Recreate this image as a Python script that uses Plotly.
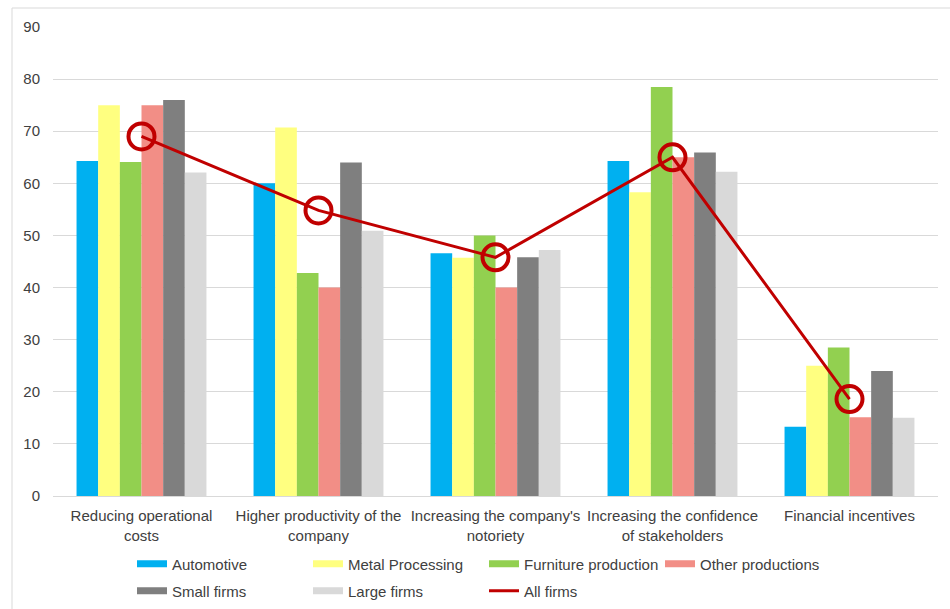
import plotly.graph_objects as go

# Categories (x axis) and survey shares (%) per group of firms
categories = [
    "Reducing operational<br>costs",
    "Higher productivity of the<br>company",
    "Increasing the company's<br>notoriety",
    "Increasing the confidence<br>of stakeholders",
    "Financial incentives",
]
automotive = [64.3, 60.0, 46.6, 64.3, 13.3]
metal_processing = [75.0, 70.7, 45.7, 58.3, 25.0]
furniture_production = [64.1, 42.8, 50.0, 78.5, 28.5]
other_productions = [75.0, 40.0, 40.0, 65.0, 15.1]
small_firms = [76.0, 64.0, 45.8, 65.9, 24.0]
large_firms = [62.1, 50.9, 47.2, 62.2, 15.0]
all_firms = [69.0, 54.8, 45.8, 65.0, 18.6]

bar_series = [
    ("Automotive", automotive, "#00B0F0", "legend"),
    ("Metal Processing", metal_processing, "#FFFF80", "legend"),
    ("Furniture production", furniture_production, "#92D050", "legend"),
    ("Other productions", other_productions, "#F28E86", "legend"),
    ("Small firms", small_firms, "#7F7F7F", "legend2"),
    ("Large firms", large_firms, "#D9D9D9", "legend2"),
]
line_color = "#C00000"
font_family = "Liberation Sans, Arial, sans-serif"
text_color = "#404040"

fig = go.Figure()

for name, values, color, _ in bar_series:
    fig.add_trace(go.Bar(
        x=categories, y=values, name=name,
        marker=dict(color=color, line=dict(width=0)),
        showlegend=False,
    ))

fig.add_trace(go.Scatter(
    x=categories, y=all_firms, name="All firms",
    mode="lines+markers",
    line=dict(color=line_color, width=3),
    marker=dict(symbol="circle-open", size=26,
                line=dict(color=line_color, width=4)),
    showlegend=False,
))

# Legend entries drawn as wide flat swatches
for name, _, color, leg in bar_series:
    fig.add_trace(go.Scatter(
        x=[None], y=[None], name=name, mode="lines",
        line=dict(color=color, width=7), legend=leg,
    ))
fig.add_trace(go.Scatter(
    x=[None], y=[None], name="All firms", mode="lines",
    line=dict(color=line_color, width=3), legend="legend2",
))

legend_common = dict(
    orientation="h",
    xref="container", yref="container",
    xanchor="left", yanchor="middle",
    entrywidth=131, entrywidthmode="pixels",
    font=dict(family=font_family, size=15, color=text_color),
    bgcolor="rgba(0,0,0,0)",
    itemclick=False, itemdoubleclick=False,
    traceorder="normal",
)

fig.update_layout(
    width=950, height=609,
    margin=dict(l=53, r=12, t=27, b=113, autoexpand=False),
    paper_bgcolor="white", plot_bgcolor="white",
    barmode="group", bargap=0.266, bargroupgap=0,
    font=dict(family=font_family, size=15, color=text_color),
    legend=dict(x=132 / 950, y=(609 - 564) / 609, **legend_common),
    legend2=dict(x=132 / 950, y=(609 - 591) / 609, **legend_common),
    xaxis=dict(
        showgrid=False, showline=True, linecolor="#D9D9D9", linewidth=1,
        ticks="", tickfont=dict(size=15, color=text_color),
        ticklabelstandoff=6, automargin=False,
    ),
    yaxis=dict(
        range=[0, 90], dtick=10,
        showgrid=True, gridcolor="#D9D9D9", gridwidth=1,
        zeroline=False, showline=False, ticks="",
        tickfont=dict(size=15, color=text_color),
        ticklabelstandoff=12, automargin=False,
    ),
    shapes=[dict(
        type="rect", xref="paper", yref="paper",
        x0=(12 - 53) / 885, x1=1.05,
        y0=-0.3, y1=(496 - 8) / 469,
        line=dict(color="#D9D9D9", width=1), fillcolor="rgba(0,0,0,0)",
        layer="below",
    )],
)

fig.write_html("out.html")
